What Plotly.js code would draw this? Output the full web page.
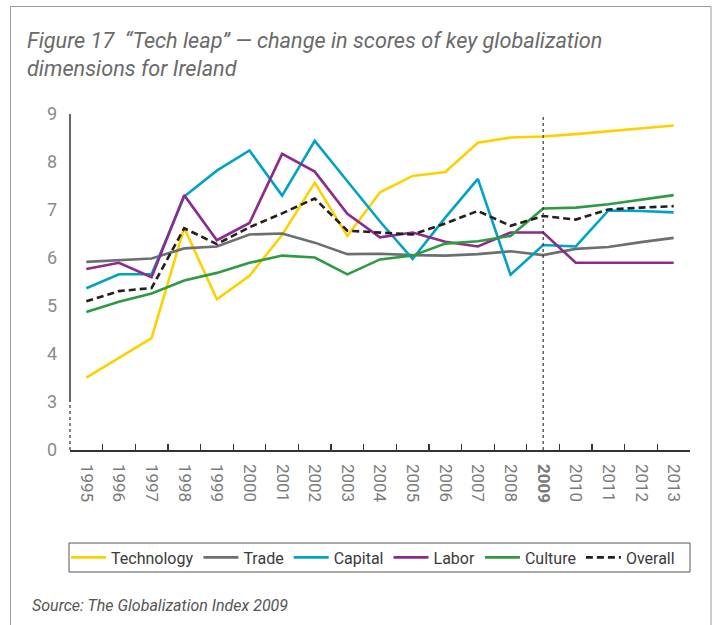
<!DOCTYPE html>
<html>
<head>
<meta charset="utf-8">
<script src="https://cdn.plot.ly/plotly-3.0.1.min.js"></script>
<style>html,body{margin:0;padding:0;background:#fff;}#chart{width:716px;height:625px;}</style>
</head>
<body>
<div id="chart"></div>
<script>
const years = ['1995','1996','1997','1998','1999','2000','2001','2002','2003','2004','2005','2006','2007','2008','2009','2010','2011','2012','2013'];
const technology = [3.51,3.92,4.33,6.63,5.14,5.63,6.48,7.57,6.46,7.37,7.71,7.79,8.40,8.51,8.53,8.58,8.64,8.70,8.76];
const trade      = [5.92,5.96,5.99,6.20,6.24,6.49,6.51,6.32,6.08,6.09,6.06,6.05,6.08,6.14,6.06,6.19,6.23,6.33,6.42];
const capital    = [5.37,5.66,5.66,7.28,7.82,8.24,7.30,8.44,7.60,6.76,5.98,6.84,7.65,5.65,6.27,6.24,6.99,6.98,6.95];
const labor      = [5.77,5.90,5.60,7.31,6.37,6.73,8.17,7.80,6.92,6.43,6.53,6.34,6.24,6.53,6.53,5.90,5.90,5.90,5.90];
const culture    = [4.875,5.09,5.26,5.53,5.69,5.90,6.05,6.01,5.66,5.97,6.05,6.30,6.35,6.46,7.03,7.05,7.12,7.21,7.31];
const overall    = [5.10,5.31,5.375,6.62,6.29,6.64,6.93,7.24,6.57,6.53,6.49,6.72,6.98,6.67,6.875,6.80,7.01,7.05,7.08];
const yTickVals = [2,3,4,5,6,7,8,9];
const yTickText = ['0','3','4','5','6','7','8','9'];
const xTickText = years.map(y => y === '2009' ? '<b>2009</b>' : y);

const seriesNames = ['Technology','Trade','Capital','Labor','Culture','Overall'];
const seriesData = [technology, trade, capital, labor, culture, overall];
const colors = ['#FFD000','#6D6E71','#00A3C4','#8C2A8E','#2E9B42','#231F20'];
const dashes = ['solid','solid','solid','solid','solid','7px,4px'];

const traces = seriesNames.map((n,i) => ({
  type:'scatter', mode:'lines', name:n, x:years, y:seriesData[i],
  line:{color:colors[i], width:2.6, dash:dashes[i]},
  hoverinfo:'x+y+name'
}));

// paper coords helpers (plot area 70..690 x, 114..450 y)
const px = v => (v-70)/620;
const py = v => (450-v)/336;

const layout = {
  width:716, height:625,
  paper_bgcolor:'#fff', plot_bgcolor:'#fff',
  margin:{l:70, r:26, t:114, b:175, pad:0},
  title:{
    text:'<i>Figure 17\u00a0\u00a0“Tech leap” — change in scores of key globalization<br>dimensions for Ireland</i>',
    x:27/716, xanchor:'left', xref:'container',
    y:1-48/625, yanchor:'top', yref:'container',
    font:{family:'Roboto, sans-serif', size:21.7, color:'#6a6a6a'}
  },
  xaxis:{
    type:'category', range:[-0.5,18.5], fixedrange:true,
    showline:true, linecolor:'#333', linewidth:1.5,
    showgrid:false, zeroline:false,
    ticks:'inside', tickson:'boundaries', ticklen:6, tickwidth:1.3, tickcolor:'#333',
    tickmode:'array', tickvals:years, ticktext:xTickText,
    tickangle:90, ticklabelstandoff:9,
    tickfont:{family:'Roboto, sans-serif', size:17, color:'#7a7a7a'}
  },
  yaxis:{
    range:[2,9], fixedrange:true,
    showline:false, showgrid:false, zeroline:false, ticks:'',
    tickmode:'array', tickvals:yTickVals, ticktext:yTickText,
    ticklabelstandoff:12,
    tickfont:{family:'Roboto, sans-serif', size:18, color:'#8a8a8a'}
  },
  showlegend:true,
  legend:{
    orientation:'h', x:px(66), xanchor:'left', y:py(557.5), yanchor:'middle',
    bgcolor:'rgba(0,0,0,0)', borderwidth:0, itemwidth:35,
    font:{family:'Roboto, sans-serif', size:16, color:'#3a3a3a'},
    traceorder:'normal', itemclick:false, itemdoubleclick:false
  },
  shapes:[
    {type:'line', xref:'paper', yref:'y', x0:0, x1:0, y0:3, y1:9, line:{color:'#333', width:1.5}},
    {type:'line', xref:'paper', yref:'y', x0:0, x1:0, y0:2, y1:3, line:{color:'#333', width:1.2, dash:'dot'}},
    {type:'line', xref:'x', yref:'y', x0:years.indexOf('2009'), x1:years.indexOf('2009'), y0:2, y1:9.03, line:{color:'#333', width:1.2, dash:'dot'}},
    {type:'rect', xref:'paper', yref:'paper', x0:px(69), x1:px(690), y0:py(543), y1:py(572), line:{color:'#555', width:1}, fillcolor:'rgba(0,0,0,0)'},
    {type:'line', xref:'paper', yref:'paper', x0:px(10.5), x1:px(711), y0:py(6.5), y1:py(6.5), line:{color:'#9a9a9a', width:1}},
    {type:'line', xref:'paper', yref:'paper', x0:px(10.5), x1:px(10.5), y0:py(6.5), y1:py(630), line:{color:'#9a9a9a', width:1}},
    {type:'line', xref:'paper', yref:'paper', x0:px(711), x1:px(711), y0:py(6.5), y1:py(630), line:{color:'#9a9a9a', width:1}}
  ],
  annotations:[
    {text:'<i>Source: The Globalization Index 2009</i>', xref:'paper', yref:'paper', x:px(30), y:py(605), xanchor:'left', yanchor:'middle', showarrow:false,
     font:{family:'Roboto, sans-serif', size:16, color:'#555'}}
  ]
};

Plotly.newPlot('chart', traces, layout, {displayModeBar:false, staticPlot:true});
</script>
</body>
</html>
